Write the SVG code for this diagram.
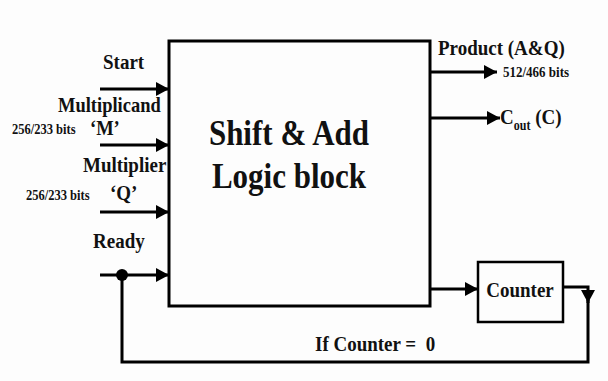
<svg xmlns="http://www.w3.org/2000/svg" width="608" height="381" viewBox="0 0 608 381">
<defs>
<marker id="ah" markerUnits="userSpaceOnUse" markerWidth="14" markerHeight="14" refX="13" refY="7" orient="auto"><path d="M0,0 L13,7 L0,14 Z" fill="#000"/></marker>
</defs>
<style>
.t{font-family:"Liberation Serif","Times New Roman",serif;font-weight:bold;fill:#111;white-space:pre}
.ln{stroke:#000;stroke-width:3;fill:none}
</style>
<rect x="0" y="0" width="608" height="381" fill="#fdfdfd"/>
<g id="connectors">
<line class="ln" x1="100" y1="89" x2="169" y2="89" marker-end="url(#ah)"/>
<line class="ln" x1="100" y1="145" x2="169" y2="145" marker-end="url(#ah)"/>
<line class="ln" x1="100" y1="212" x2="169" y2="212" marker-end="url(#ah)"/>
<line class="ln" x1="100" y1="275" x2="169" y2="275" marker-end="url(#ah)"/>
<line class="ln" x1="430" y1="72" x2="497" y2="72" marker-end="url(#ah)"/>
<line class="ln" x1="430" y1="118" x2="500" y2="118" marker-end="url(#ah)"/>
<line class="ln" x1="430" y1="289" x2="478" y2="289" marker-end="url(#ah)"/>
<polyline class="ln" points="563,287 588,287 588,303" marker-end="url(#ah)"/>
<polyline class="ln" points="588,300 588,362 122,362 122,275"/>
<circle cx="122" cy="275" r="6" fill="#000"/>
</g>
<g id="logic">
<rect x="169" y="41" width="261" height="265" fill="none" stroke="#000" stroke-width="3"/>
<text class="t" text-anchor="middle" font-size="31" transform="translate(289,145) scale(1,1.14)">Shift &amp; Add</text>
<text class="t" text-anchor="middle" font-size="31" transform="translate(289,188) scale(1,1.14)">Logic block</text>
</g>
<g id="counter">
<rect x="478" y="262" width="85" height="60" fill="none" stroke="#000" stroke-width="2.5"/>
<text class="t" text-anchor="middle" font-size="19" transform="translate(520,297) scale(1,1.14)">Counter</text>
</g>
<g id="labels">
<text class="t" font-size="19" transform="translate(103,69) scale(1,1.14)">Start</text>
<text class="t" font-size="18.5" transform="translate(58,112) scale(1,1.1)">Multiplicand</text>
<text class="t" font-size="18.5" transform="translate(90,135) scale(1,1.1)">‘M’</text>
<text class="t" font-size="12.5" transform="translate(12,134) scale(1,1.14)">256/233 bits</text>
<text class="t" font-size="19" transform="translate(83,172) scale(1,1.14)">Multiplier</text>
<text class="t" font-size="19" transform="translate(110,200) scale(1,1.14)">‘Q’</text>
<text class="t" font-size="12.5" transform="translate(26,200) scale(1,1.14)">256/233 bits</text>
<text class="t" font-size="19" transform="translate(93,248) scale(1,1.14)">Ready</text>
<text class="t" font-size="19" transform="translate(438,55) scale(1,1.14)">Product (A&amp;Q)</text>
<text class="t" font-size="13" transform="translate(503,77) scale(1,1.14)">512/466 bits</text>
<text class="t" font-size="19" transform="translate(500,124) scale(1,1.14)">C<tspan font-size="12" dy="5">out</tspan><tspan dy="-5"> (C)</tspan></text>
<text class="t" font-size="19" transform="translate(315,351) scale(1,1.14)">If Counter =  0</text>
</g>
</svg>
